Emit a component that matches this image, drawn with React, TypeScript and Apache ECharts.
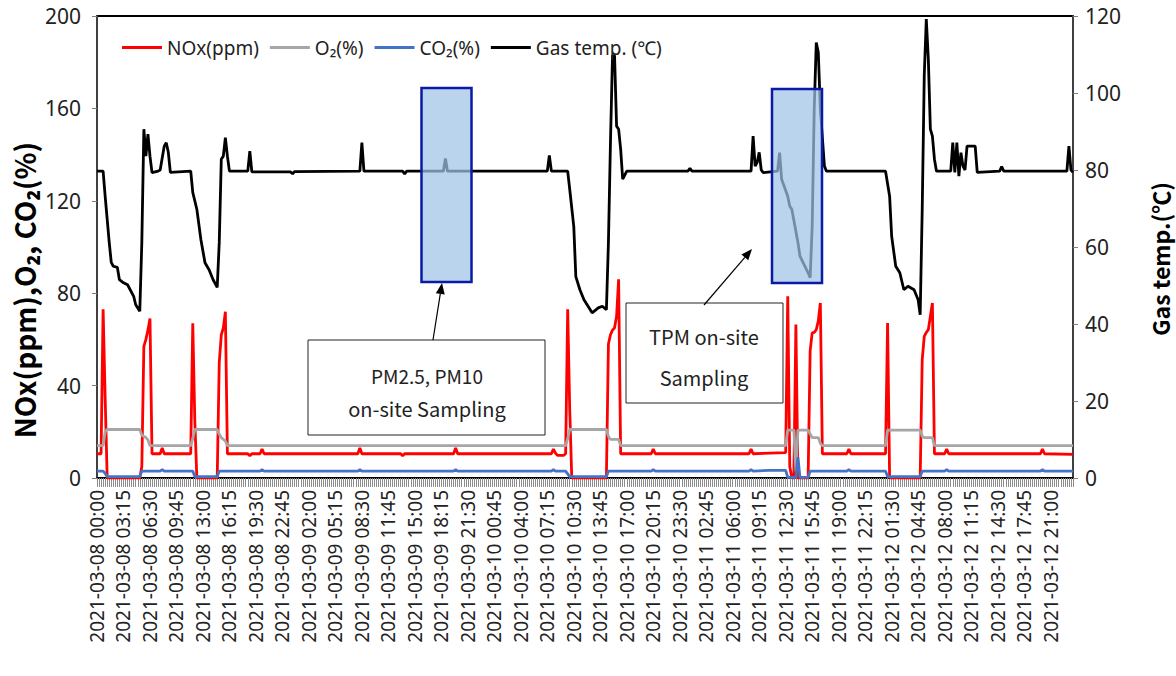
import React, { useEffect, useRef } from "react";
import * as echarts from "echarts";

// ---- categories: 15-minute timestamps, 2021-03-08 00:00 .. 2021-03-12 23:45 ----
const START_UTC = Date.UTC(2021, 2, 8, 0, 0);
const STEP_MS = 15 * 60 * 1000;
const N_POINTS = 480;
const pad2 = (n: number) => String(n).padStart(2, "0");
const categories: string[] = [];
for (let i = 0; i < N_POINTS; i++) {
  const d = new Date(START_UTC + i * STEP_MS);
  categories.push(
    `${d.getUTCFullYear()}-${pad2(d.getUTCMonth() + 1)}-${pad2(d.getUTCDate())} ${pad2(d.getUTCHours())}:${pad2(d.getUTCMinutes())}`
  );
}

// ---- series values as [categoryIndex, value] breakpoints ----
const noxPpm: [number, number][] = [
  [0, 10.5], [2, 10.5], [3, 73], [4, 35], [5, 0], [21, 0], [22, 5], [23, 57], [24, 60], [25, 64], [26, 69], [27, 10.5],
  [31, 10.5], [32, 13], [33, 10.5], [46, 10.5], [47, 67], [48, 25], [49, 0], [59, 0], [60, 50], [61, 62], [62, 65],
  [63, 72], [64, 10.5], [74, 10.5], [75, 9.6], [76, 10.5], [80, 10.5], [81, 12.5], [82, 10.5], [128, 10.5], [129, 13],
  [130, 10.5], [149, 10.5], [150, 9.6], [151, 10.5], [175, 10.5], [176, 13], [177, 10.5], [223, 10.5], [224, 12.5],
  [225, 10.8], [226, 9.8], [229, 9.8], [230, 10.5], [231, 73], [232, 30], [233, 0], [250, 0], [251, 58], [252, 62],
  [253, 64], [254, 65], [255, 70], [256, 86], [257, 10.5], [272, 10.5], [273, 12.5], [274, 10.5], [320, 10.5],
  [321, 12.5], [322, 10.5], [338, 11], [339, 78.7], [340, 5], [341, 0], [342, 0], [343, 66.4], [344, 0], [349, 0],
  [350, 55], [351, 62.8], [352, 63], [353, 64.2], [354, 68], [355, 75.8], [356, 10.5], [368, 10.5], [369, 12.5],
  [370, 10.5], [387, 10.5], [388, 67.1], [389, 0], [404, 0], [405, 51.2], [406, 61.3], [407, 63], [408, 64.2],
  [409, 70], [410, 75.8], [411, 10.5], [416, 10.5], [417, 12.5], [418, 10.5], [463, 10.5], [464, 12.5], [465, 10.5],
  [479, 10.2],
];

const o2Pct: [number, number][] = [
  [0, 14], [3, 14], [4, 20], [5, 21], [21, 21], [22, 18.5], [24, 17.5], [25, 16.5], [26, 14], [46, 14], [47, 17],
  [48, 21], [59, 21], [60, 19], [61, 17.5], [63, 16], [64, 14], [230, 14], [231, 17], [232, 21], [250, 21], [251, 18],
  [252, 16.7], [256, 16.7], [257, 14], [338, 14], [339, 20.7], [342, 20.7], [343, 3], [344, 20.7], [349, 20.7],
  [351, 17.5], [354, 17.5], [355, 15], [356, 14], [387, 14], [388, 20.7], [404, 20.7], [405, 18], [406, 17.5],
  [410, 17.5], [411, 14], [479, 14],
];

const co2Pct: [number, number][] = [
  [0, 3], [3, 3], [4, 2], [5, 0.6], [21, 0.6], [22, 3], [31, 3], [32, 3.6], [33, 3], [47, 3], [48, 0.6], [59, 0.6],
  [60, 3], [80, 3], [81, 3.6], [82, 3], [128, 3], [129, 3.6], [130, 3], [175, 3], [176, 3.6], [177, 3], [223, 3],
  [224, 3.6], [225, 3], [230, 3], [232, 0.6], [250, 0.6], [251, 3], [272, 3], [273, 3.6], [274, 3], [320, 3],
  [321, 3.6], [322, 3], [330, 3.3], [338, 3.3], [339, 0.3], [343, 0.3], [344, 9], [345, 0.3], [349, 0.3], [350, 3],
  [368, 3], [369, 3.6], [370, 3], [387, 3], [388, 0.6], [404, 0.6], [405, 3], [416, 3], [417, 3.6], [418, 3],
  [463, 3], [464, 3.6], [465, 3], [479, 3],
];

const gasTempC: [number, number][] = [
  [0, 79.7], [3, 79.7], [4, 73.2], [6, 61.2], [7, 56], [8, 55], [10, 54.7], [11, 51.5], [13, 50.7], [15, 50.2],
  [18, 47.2], [19, 45], [21, 43.3], [22, 61.2], [23, 90.6], [24, 83.6], [25, 89.3], [26, 83.6], [27, 79.3], [30, 79.7],
  [31, 80], [33, 86.2], [34, 87.1], [35, 84.6], [36, 79.4], [46, 79.7], [47, 74.2], [49, 69.8], [51, 61.9], [53, 55.9],
  [55, 54.1], [57, 51.5], [59, 49.5], [60, 61.2], [61, 82.8], [62, 83.6], [63, 88.4], [64, 83.6], [65, 79.7],
  [74, 79.7], [75, 84.9], [76, 79.5], [95, 79.5], [96, 79], [97, 79.6], [129, 79.7], [130, 87.1], [131, 79.7],
  [150, 79.7], [151, 79], [152, 79.7], [170, 79.7], [171, 83], [172, 79.7], [221, 79.7], [222, 83.8], [223, 79.7],
  [231, 79.7], [232, 75], [234, 65.3], [235, 52.3], [237, 48.9], [239, 46.3], [241, 44.6], [243, 42.9], [246, 44.2],
  [248, 44.6], [250, 43.7], [251, 61.2], [252, 87.2], [253, 109.7], [254, 109.7], [255, 91.4], [256, 90.6],
  [257, 85.4], [258, 77.6], [260, 79.7], [290, 79.7], [291, 80.4], [292, 79.7], [321, 79.7], [322, 88.8], [323, 81],
  [324, 82], [325, 84.6], [326, 80], [327, 79.3], [334, 79.7], [335, 84.5], [336, 77.6], [339, 73.2], [340, 70.6],
  [341, 69.8], [344, 61.2], [345, 57.6], [349, 53.3], [350, 52], [351, 65.4], [352, 95.8], [353, 113.1], [354, 110.6],
  [355, 95.8], [357, 81], [358, 79.7], [387, 79.7], [389, 73.2], [390, 62.8], [392, 55], [394, 53.3], [396, 48.9],
  [398, 49.8], [401, 48.9], [403, 46.3], [404, 42.4], [405, 69.8], [406, 104.5], [407, 119.2], [408, 108.8],
  [409, 90.6], [410, 88.8], [411, 82.8], [412, 79.7], [419, 79.7], [420, 87.1], [421, 79.4], [422, 87.1], [423, 78.4],
  [424, 84.5], [425, 81], [426, 80], [427, 86.2], [431, 86.2], [432, 79.4], [443, 79.7], [444, 80.9], [445, 79.7],
  [476, 79.7], [477, 86.2], [478, 80], [479, 79.4],
];

const leftTicks = { min: 0, max: 200, interval: 40 };
const rightTicks = { min: 0, max: 120, interval: 20 };

const FONT = "'Noto Sans', 'DejaVu Sans', sans-serif";
const FONT_BOX = "'Noto Sans CJK KR', 'Noto Sans', sans-serif";

function arrow(x1: number, y1: number, x2: number, y2: number) {
  const dx = x2 - x1;
  const dy = y2 - y1;
  const len = Math.sqrt(dx * dx + dy * dy);
  const ux = dx / len;
  const uy = dy / len;
  const hl = 11;
  const hw = 4.5;
  const bx = x2 - ux * hl;
  const by = y2 - uy * hl;
  return [
    { type: "line", z: 120, shape: { x1, y1, x2: bx, y2: by }, style: { stroke: "#000", lineWidth: 1.2 } },
    {
      type: "polygon",
      z: 120,
      shape: { points: [[x2, y2], [bx - uy * hw, by + ux * hw], [bx + uy * hw, by - ux * hw]] },
      style: { fill: "#000" },
    },
  ];
}

export default function App() {
  const ref = useRef<HTMLDivElement>(null);
  useEffect(() => {
    document.body.style.margin = "0";
    if (!ref.current) return;
    const chart = echarts.init(ref.current, null, { renderer: "svg" });
    const lineS = (name: string, data: [number, number][], color: string, yAxisIndex: number, width = 2.8) => ({
      name,
      type: "line",
      data,
      yAxisIndex,
      symbol: "none",
      showSymbol: false,
      lineStyle: { color, width },
      itemStyle: { color },
    });
    chart.setOption({
      animation: false,
      backgroundColor: "#fff",
      textStyle: { fontFamily: FONT },
      grid: { left: 97, right: 103, top: 16, bottom: 198, show: true, borderColor: "#000", borderWidth: 2 },
      legend: {
        left: 117,
        top: 33,
        icon: "rect",
        itemWidth: 40,
        itemHeight: 3,
        itemGap: 11,
        textStyle: { fontSize: 19, color: "#222", fontFamily: FONT },
        data: ["NOx(ppm)", "O₂(%)", "CO₂(%)", "Gas temp. (℃)"],
      },
      xAxis: {
        type: "category",
        data: categories,
        boundaryGap: false,
        axisLine: { lineStyle: { color: "#000", width: 1.5 } },
        axisTick: { show: true, interval: 0, length: 9, lineStyle: { color: "#8c8c8c", width: 1 } },
        axisLabel: { interval: 12, rotate: 90, margin: 12, fontSize: 19, color: "#222", fontFamily: FONT },
        splitLine: { show: false },
      },
      yAxis: [
        {
          type: "value",
          ...leftTicks,
          axisLine: { show: true, lineStyle: { color: "#404040", width: 2 } },
          axisTick: { show: true, length: 5, lineStyle: { color: "#808080" } },
          axisLabel: { fontSize: 21, color: "#222", margin: 16, fontFamily: FONT },
          splitLine: { show: false },
        },
        {
          type: "value",
          ...rightTicks,
          position: "right",
          axisLine: { show: true, lineStyle: { color: "#404040", width: 2 } },
          axisTick: { show: true, length: 5, lineStyle: { color: "#808080" } },
          axisLabel: { fontSize: 21, color: "#222", margin: 12, fontFamily: FONT },
          splitLine: { show: false },
        },
      ],
      series: [
        lineS("NOx(ppm)", noxPpm, "#ff0000", 0),
        lineS("O₂(%)", o2Pct, "#a6a6a6", 0),
        lineS("CO₂(%)", co2Pct, "#4472c4", 0),
        lineS("Gas temp. (℃)", gasTempC, "#000000", 1),
      ],
      graphic: [
        {
          type: "text",
          x: 24,
          y: 290,
          rotation: Math.PI / 2,
          style: {
            text: "NOx(ppm),O₂, CO₂(%)",
            font: `bold 28px ${FONT_BOX}`,
            fill: "#000",
            textAlign: "center",
            textVerticalAlign: "middle",
          },
        },
        {
          type: "text",
          x: 1160,
          y: 259,
          rotation: Math.PI / 2,
          style: {
            text: "Gas temp.(℃)",
            font: `bold 23px ${FONT_BOX}`,
            fill: "#000",
            textAlign: "center",
            textVerticalAlign: "middle",
          },
        },
        {
          type: "rect",
          z: 110,
          shape: { x: 421.5, y: 88, width: 50, height: 194 },
          style: { fill: "rgba(160,196,232,0.72)", stroke: "#0a1aa6", lineWidth: 2.5 },
        },
        {
          type: "rect",
          z: 110,
          shape: { x: 772, y: 89, width: 50, height: 194 },
          style: { fill: "rgba(160,196,232,0.72)", stroke: "#0a1aa6", lineWidth: 2.5 },
        },
        {
          type: "rect",
          z: 110,
          shape: { x: 308, y: 340, width: 237, height: 95 },
          style: { fill: "#fff", stroke: "#222", lineWidth: 1 },
        },
        {
          type: "text",
          z: 111,
          x: 427,
          y: 375,
          style: { text: "PM2.5, PM10", font: `19px ${FONT_BOX}`, fill: "#222", textAlign: "center", textVerticalAlign: "middle" },
        },
        {
          type: "text",
          z: 111,
          x: 427,
          y: 408,
          style: { text: "on-site Sampling", font: `20px ${FONT_BOX}`, fill: "#222", textAlign: "center", textVerticalAlign: "middle" },
        },
        {
          type: "rect",
          z: 110,
          shape: { x: 626, y: 303, width: 157, height: 100 },
          style: { fill: "#fff", stroke: "#222", lineWidth: 1 },
        },
        {
          type: "text",
          z: 111,
          x: 704,
          y: 336,
          style: { text: "TPM on-site", font: `20px ${FONT_BOX}`, fill: "#222", textAlign: "center", textVerticalAlign: "middle" },
        },
        {
          type: "text",
          z: 111,
          x: 704,
          y: 377,
          style: { text: "Sampling", font: `20px ${FONT_BOX}`, fill: "#222", textAlign: "center", textVerticalAlign: "middle" },
        },
        ...arrow(433, 340, 442, 283),
        ...arrow(704, 305, 752, 249),
      ],
    });
    return () => chart.dispose();
  }, []);
  return <div ref={ref} style={{ width: 1176, height: 676 }} />;
}
